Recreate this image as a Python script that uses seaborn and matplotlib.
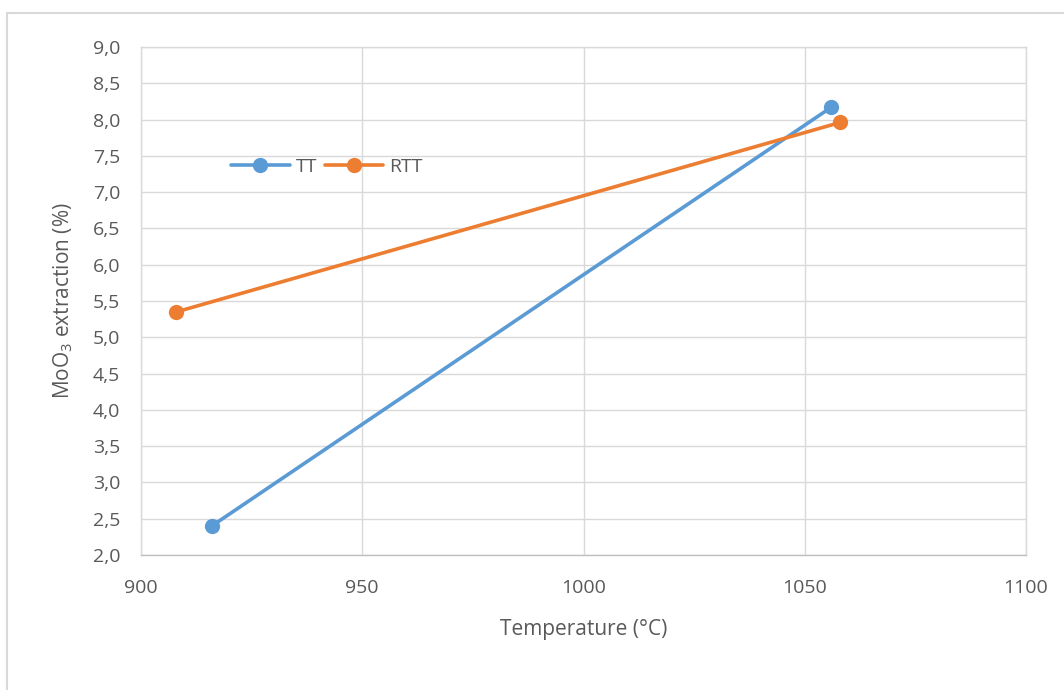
import pandas as pd
import matplotlib
matplotlib.use("Agg")
import matplotlib.pyplot as plt
import seaborn as sns
from matplotlib.patches import Rectangle
from matplotlib.ticker import FuncFormatter, MultipleLocator

# ── Data ─────────────────────────────────────────────────────────────────────
tt_temp = [916, 1056]
tt_extr = [2.40, 8.17]
rtt_temp = [908, 1058]
rtt_extr = [5.35, 7.96]

series_names = ["TT", "RTT"]
palette = {"TT": "#5B9BD5", "RTT": "#ED7D31"}

df = pd.concat([
    pd.DataFrame({"Temperature": tt_temp, "Extraction": tt_extr, "Series": "TT"}),
    pd.DataFrame({"Temperature": rtt_temp, "Extraction": rtt_extr, "Series": "RTT"}),
])

sns.set_theme(style="white")
plt.rcParams["font.family"] = ["Open Sans", "DejaVu Sans"]
plt.rcParams["mathtext.default"] = "regular"

text_col = "#595959"
grid_col = "#D9D9D9"

fig = plt.figure(figsize=(10.64, 6.9), dpi=100)
ax = fig.add_axes([141 / 1064, 1 - 555 / 690, 885 / 1064, 508 / 690])

sns.lineplot(data=df, x="Temperature", y="Extraction", hue="Series",
             hue_order=series_names, palette=palette, marker="o",
             markersize=11, markeredgewidth=0, linewidth=2.6, ax=ax)

ax.set_xlim(900, 1100)
ax.set_ylim(2.0, 9.0)
ax.xaxis.set_major_locator(MultipleLocator(50))
ax.yaxis.set_major_locator(MultipleLocator(0.5))
ax.yaxis.set_major_formatter(FuncFormatter(lambda v, _: f"{v:.1f}".replace(".", ",")))
ax.grid(True, color=grid_col, linewidth=1)
for sp in ax.spines.values():
    sp.set_color(grid_col)
    sp.set_linewidth(1)
ax.spines["bottom"].set_color("#BFBFBF")
ax.tick_params(length=0, labelsize=14, colors=text_col)
ax.tick_params(axis="x", pad=17)
ax.tick_params(axis="y", pad=15)

ax.set_xlabel("Temperature (°C)", fontsize=15, color=text_col, labelpad=16)
ax.set_ylabel("MoO$_3$ extraction (%)", fontsize=15, color=text_col, labelpad=13)

ax.legend(loc="center", bbox_to_anchor=(0.21, 0.764), ncol=2, frameon=False,
          fontsize=14, handlelength=3, columnspacing=0.4, handletextpad=0.3,
          labelcolor=text_col)

fig.patches.append(Rectangle((7 / 1064, -0.01), 1.0, 1 - 13 / 690 + 0.01,
                             transform=fig.transFigure, fill=False,
                             edgecolor=grid_col, linewidth=1.5))

fig.savefig("out.png", dpi=100)
